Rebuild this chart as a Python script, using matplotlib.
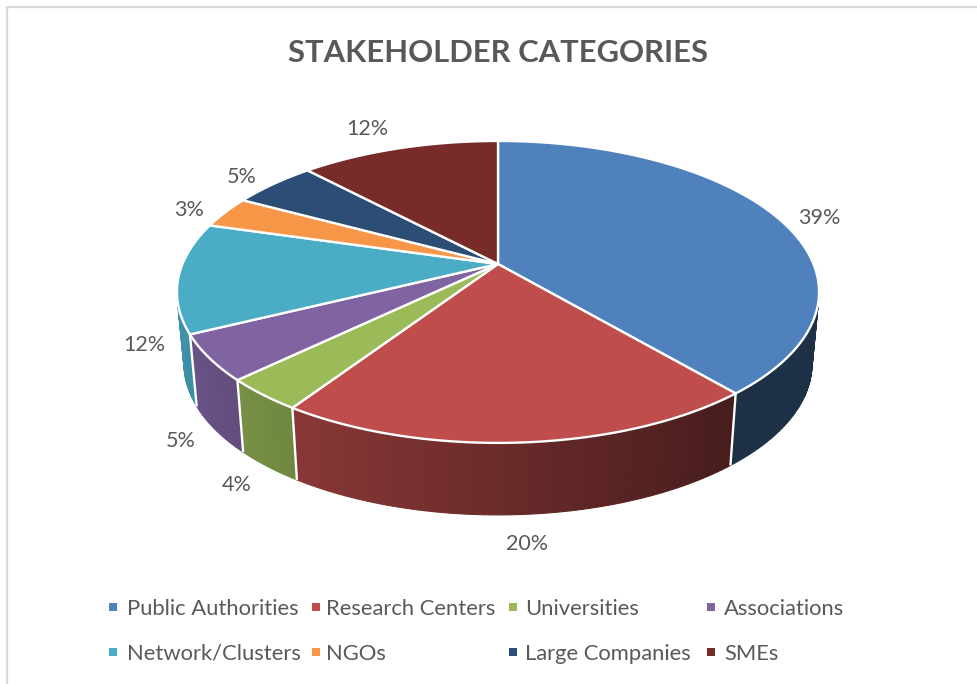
import numpy as np
import matplotlib
matplotlib.use("Agg")
import matplotlib.pyplot as plt
from matplotlib.colors import to_rgb

# ---- data ----
title = "STAKEHOLDER CATEGORIES"
categories = ["Public Authorities", "Research Centers", "Universities", "Associations",
              "Network/Clusters", "NGOs", "Large Companies", "SMEs"]
shares = [38.8, 20.49, 3.5, 4.9, 11.8, 3.4, 5.1, 12.01]
colors = ["#4f81bd", "#be4d4b", "#9bbb59", "#8064a2", "#4bacc6", "#f79646", "#2c4d75", "#772c2a"]

# ---- layout (pixel space of the figure) ----
W, H = 977, 684
CX, CY = 498.0, 264.0
A, B, K = 315.5, 145.8, 0.185      # perspective projection of the pie disc
DEPTH, SHRINK = 72.0, 0.978        # offset of the lower disc
label_xy = [(819, 218), (527, 544), (237, 485), (181, 441),
            (144, 345), (189, 210), (242, 177), (367, 129)]
legend_marker_x = [113, 316, 513, 711]
legend_text_x = [127, 326, 525, 724]
legend_y = [609, 654]
TEXT = "#595959"
FONT = "Lato"


def top(theta):
    """Project a rim point; theta is clockwise from 12 o'clock, radians."""
    u, v = np.sin(theta), np.cos(theta)
    w = 1 + K * v
    return CX + A * u / w, CY - B * v / w


def bottom(theta):
    x, y = top(theta)
    return CX + (x - CX) * SHRINK, y + DEPTH


def shade(theta):
    return np.clip(0.56 - 0.29 * np.sin(theta), 0.37, 1.0)


fig = plt.figure(figsize=(W / 100, H / 100), dpi=100)
ax = fig.add_axes([0, 0, 1, 1])
ax.set_xlim(0, W)
ax.set_ylim(H, 0)
ax.axis("off")

# chart frame: left and top edges only are inside the crop
ax.plot([6.5, 6.5, W], [H, 7, 7], color="#d9d9d9", lw=1.6, zorder=0)

fractions = np.array(shares, dtype=float) / sum(shares)
edges = np.concatenate([[0], np.cumsum(fractions)]) * 2 * np.pi

# side wall
for i, col in enumerate(colors):
    t0, t1 = edges[i], edges[i + 1]
    n = max(2, int((t1 - t0) / np.radians(1.0)))
    ts = np.linspace(t0, t1, n + 1)
    base = np.array(to_rgb(col))
    for a, b in zip(ts[:-1], ts[1:]):
        mid = (a + b) / 2
        if np.cos(mid) > 0.28:
            continue
        xa, ya = top(a); xb, yb = top(b)
        xc, yc = bottom(b); xd, yd = bottom(a)
        c = base * shade(mid)
        ax.fill([xa, xb, xc, xd], [ya, yb, yc, yd], facecolor=c, edgecolor=c, lw=0.8, zorder=2)

# white separators on the wall
for e in edges:
    if np.cos(e) < -0.1 or (np.cos(e) < 0.3 and np.sin(e) < 0):
        x0, y0 = top(e); x1, y1 = bottom(e)
        if np.sin(e) < -0.97:
            continue
        ax.plot([x0, x1], [y0, y1], color="white", lw=1.7, zorder=3, solid_capstyle="butt")

# top faces
for i, col in enumerate(colors):
    ts = np.linspace(edges[i], edges[i + 1], 200)
    x, y = top(ts)
    ax.fill(np.r_[CX, x], np.r_[CY, y], facecolor=col, edgecolor="white", lw=1.7,
            joinstyle="round", zorder=4)

# labels
for (x, y), s in zip(label_xy, shares):
    ax.text(x, y, f"{s:.0f}%", ha="center", va="center", fontsize=15.5, color=TEXT, family=FONT, zorder=6)

# title
ax.text(498, 53.5, title, ha="center", va="center", fontsize=22.3, fontweight="bold", color=TEXT, family=FONT)

# legend
order = [(0, 0), (0, 1), (0, 2), (0, 3), (1, 0), (1, 1), (1, 2), (1, 3)]
for (r, c), name, col in zip(order, categories, colors):
    ax.scatter([legend_marker_x[c]], [legend_y[r] - 2], marker="s", s=38, color=col, linewidths=0, zorder=6)
    ax.text(legend_text_x[c], legend_y[r], name, ha="left", va="center", fontsize=15.8, color=TEXT, family=FONT)

fig.savefig("out.png", dpi=100, facecolor="white")
